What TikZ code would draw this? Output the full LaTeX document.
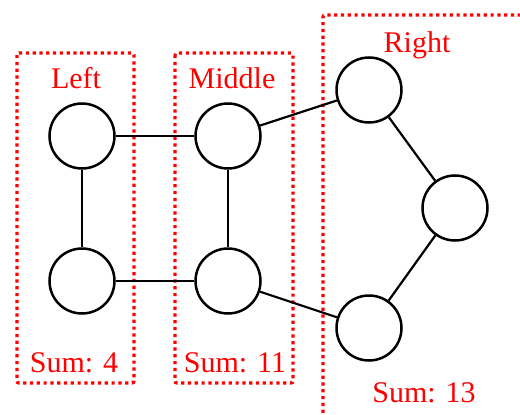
\documentclass[tikz,border=0pt]{standalone}
\usepackage{fontspec}
\setmainfont{Liberation Serif}
\begin{document}
\begin{tikzpicture}[x=1pt,y=-1pt,
  vtx/.style={circle,draw=black,line width=2.5pt,minimum size=65pt,inner sep=0pt},
  grp/.style={draw=red,line width=3.3pt,dash pattern=on 3.2pt off 3.6pt,rounded corners=2pt},
  lbl/.style={text=red,anchor=base,inner sep=0pt,font=\fontsize{30}{36}\selectfont},
  edge/.style={line width=2.2pt}]
\useasboundingbox (0,0) rectangle (520,415);
\clip (0,0) rectangle (520,415);
\draw[grp] (17,53) rectangle (134,383);
\draw[grp] (175,53) rectangle (293,383);
\draw[grp] (323,440) -- (323,15) -- (540,15);
\node[lbl] (tl) at (76,88) {Left};
\node[lbl] (tm) at (232,88) {Middle};
\node[lbl] (tr) at (417,52) {Right};
\node[lbl] (sl) at (74,372) {Sum: 4};
\node[lbl] (sm) at (235,372) {Sum: 11};
\node[lbl] (sr) at (424,402) {Sum: 13};
\node[vtx] (l1) at (82,136) {};
\node[vtx] (l2) at (82,281) {};
\node[vtx] (m1) at (228,136) {};
\node[vtx] (m2) at (228,281) {};
\node[vtx] (r1) at (369,90) {};
\node[vtx] (r2) at (455,208) {};
\node[vtx] (r3) at (369,328) {};
\draw[edge] (l1) -- (m1);
\draw[edge] (l2) -- (m2);
\draw[edge] (l1) -- (l2);
\draw[edge] (m1) -- (m2);
\draw[edge] (m1) -- (r1);
\draw[edge] (m2) -- (r3);
\draw[edge] (r1) -- (r2);
\draw[edge] (r2) -- (r3);
\end{tikzpicture}
\end{document}
